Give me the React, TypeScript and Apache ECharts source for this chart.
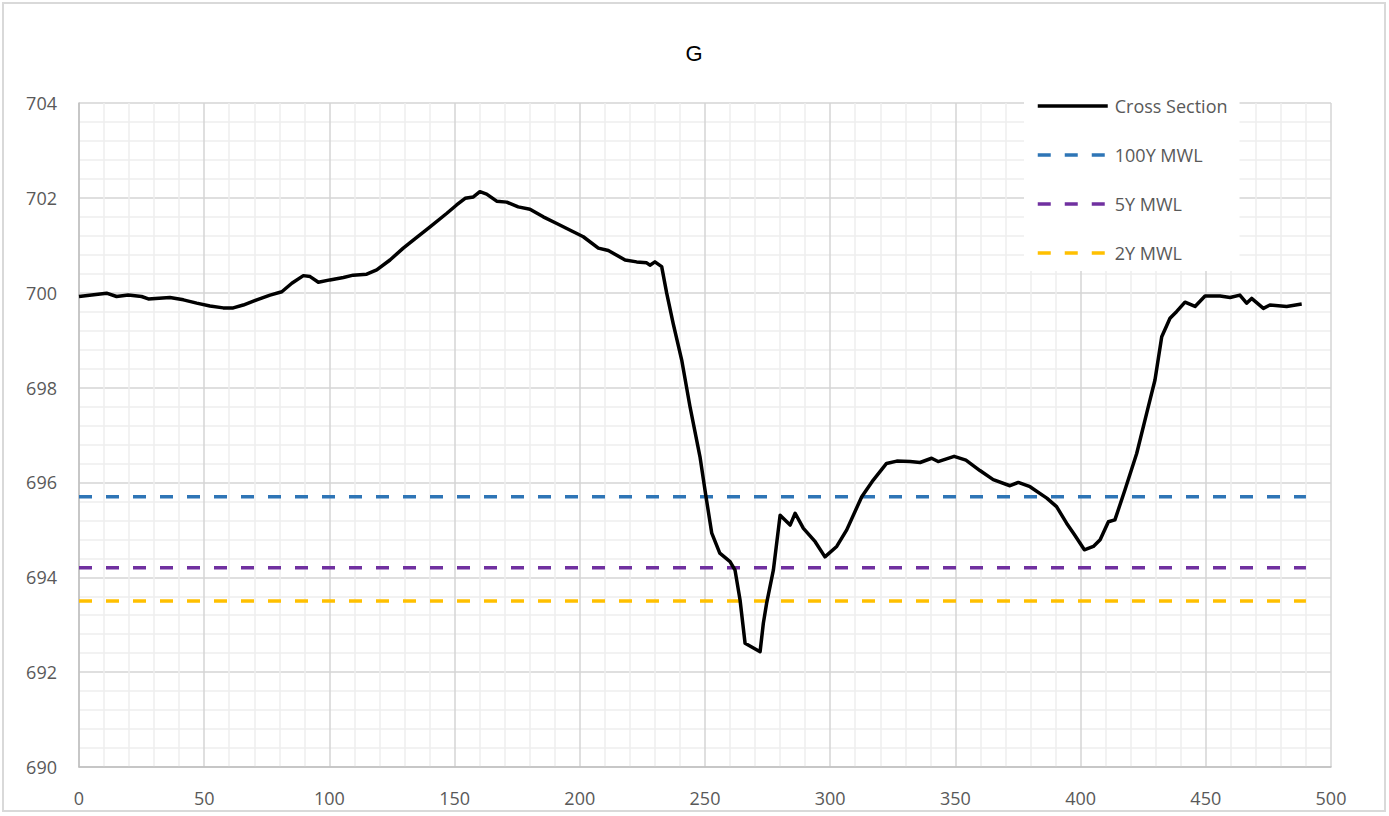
import React, { useEffect, useRef } from "react";
import * as echarts from "echarts";

const crossX = [0, 11, 15, 19.7, 25, 27.7, 36.3, 41.7, 47, 52.3, 57.6, 61.6, 65.6, 71, 76.3, 81, 85, 89.6, 92.3, 95.6, 100.2, 105.6, 109.5, 114.9, 118.9, 124.2, 129.5, 133.5, 140.2, 146.8, 150.8, 154.2, 157.5, 160.1, 162.8, 166.8, 170.8, 175.4, 180.1, 185.4, 190.8, 196.8, 201.4, 207.4, 211.4, 218.1, 222.7, 226.7, 228, 230, 232.7, 234.7, 237.3, 240.7, 244, 248, 250.4, 252.7, 255.9, 260, 262, 264, 266, 272, 273.3, 274.6, 277.3, 280, 284, 286, 289.3, 294, 297.9, 302.6, 306.6, 312.6, 317.2, 322.5, 326.6, 331.9, 335.9, 340.5, 343.1, 349.5, 354.2, 359.8, 365.1, 371.8, 375.1, 379.8, 386.5, 390.4, 394.4, 397.5, 401.5, 405.1, 407.8, 411.1, 413.7, 417.7, 422.4, 426.4, 429.7, 432.4, 435.7, 438.3, 441.7, 445.7, 449.7, 455.7, 459.7, 463.6, 466.3, 468.3, 473, 475.6, 482.3, 488.3];
const crossY = [699.92, 699.99, 699.92, 699.95, 699.92, 699.87, 699.9, 699.85, 699.78, 699.72, 699.68, 699.68, 699.74, 699.85, 699.95, 700.02, 700.2, 700.36, 700.34, 700.22, 700.27, 700.32, 700.37, 700.39, 700.48, 700.69, 700.94, 701.11, 701.39, 701.67, 701.85, 701.99, 702.02, 702.13, 702.08, 701.93, 701.91, 701.81, 701.76, 701.6, 701.46, 701.3, 701.18, 700.94, 700.89, 700.69, 700.65, 700.63, 700.58, 700.65, 700.55, 699.99, 699.35, 698.58, 697.6, 696.54, 695.7, 694.93, 694.51, 694.33, 694.15, 693.52, 692.61, 692.43, 693.03, 693.45, 694.15, 695.31, 695.1, 695.35, 695.03, 694.75, 694.43, 694.65, 695.0, 695.7, 696.05, 696.4, 696.45, 696.44, 696.42, 696.51, 696.44, 696.55, 696.47, 696.25, 696.06, 695.93, 696.0, 695.91, 695.67, 695.49, 695.14, 694.9, 694.58, 694.65, 694.79, 695.17, 695.21, 695.84, 696.61, 697.46, 698.16, 699.07, 699.46, 699.6, 699.8, 699.71, 699.93, 699.93, 699.9, 699.95, 699.78, 699.88, 699.67, 699.74, 699.71, 699.76];

const mwlNames = ["100Y MWL", "5Y MWL", "2Y MWL"];
const mwlLevels = [695.7, 694.2, 693.5];
const mwlColors = ["#2E75B6", "#7030A0", "#FFC000"];
const mwlXRange = [0, 490];

const xTicks = { min: 0, max: 500, interval: 50 };
const yTicks = { min: 690, max: 704, interval: 2 };

export default function App() {
  const ref = useRef<HTMLDivElement>(null);
  useEffect(() => {
    document.body.style.margin = "0";
    const chart = echarts.init(ref.current!, null, { renderer: "svg" });
    const font = "'Open Sans', 'Noto Sans', sans-serif";
    const crossData = crossX.map((x, i) => [x, crossY[i]]);
    const mwlSeries = mwlNames.map((name, i) => ({
      name,
      type: "line",
      data: mwlXRange.map((x) => [x, mwlLevels[i]]),
      symbol: "none",
      lineStyle: { color: mwlColors[i], width: 3.5, type: [13, 14] },
      itemStyle: { color: mwlColors[i] },
      z: 3,
    }));
    chart.setOption({
      animation: false,
      backgroundColor: "#ffffff",
      title: {
        text: "G",
        left: 689,
        textAlign: "center",
        top: 37,
        textStyle: { fontFamily: "'Liberation Sans', Arial, sans-serif", fontSize: 22, fontWeight: "normal", color: "#000" },
      },
      graphic: [
        {
          type: "rect",
          shape: { x: 3, y: 3, width: 1382, height: 808 },
          style: { fill: "none", stroke: "#d9d9d9", lineWidth: 2 },
          z: -1,
          silent: true,
        },
      ],
      grid: { left: 79, right: 58, top: 103, bottom: 49, containLabel: false },
      legend: {
        orient: "vertical",
        left: 1024,
        top: 88,
        padding: [9, 12, 9, 12],
        backgroundColor: "#ffffff",
        itemWidth: 70,
        itemHeight: 14,
        itemGap: 31,
        itemStyle: { opacity: 0 },
        lineStyle: { width: 3.5 },
        textStyle: { fontFamily: font, fontSize: 18, color: "#595959", padding: [0, 0, 0, 2] },
        data: ["Cross Section", ...mwlNames],
        z: 10,
      },
      xAxis: {
        type: "value",
        min: xTicks.min,
        max: xTicks.max,
        interval: xTicks.interval,
        axisLine: { show: true, lineStyle: { color: "#bfbfbf", width: 1.5 } },
        axisTick: { show: false },
        axisLabel: { color: "#595959", fontFamily: font, fontSize: 18, margin: 22 },
        splitLine: { show: true, lineStyle: { color: "#d4d4d4", width: 1.5 } },
        minorTick: { show: false, splitNumber: 5 },
        minorSplitLine: { show: true, lineStyle: { color: "#eeeeee", width: 1.5 } },
      },
      yAxis: {
        type: "value",
        min: yTicks.min,
        max: yTicks.max,
        interval: yTicks.interval,
        axisLine: { show: true, lineStyle: { color: "#bfbfbf", width: 1.5 } },
        axisTick: { show: false },
        axisLabel: { color: "#595959", fontFamily: font, fontSize: 18, margin: 22 },
        splitLine: { show: true, lineStyle: { color: "#d4d4d4", width: 1.5 } },
        minorTick: { show: false, splitNumber: 5 },
        minorSplitLine: { show: true, lineStyle: { color: "#eeeeee", width: 1.5 } },
      },
      series: [
        {
          name: "Cross Section",
          type: "line",
          data: crossData,
          symbol: "none",
          smooth: false,
          lineStyle: { color: "#000000", width: 3.5, join: "round" },
          itemStyle: { color: "#000000" },
          z: 4,
        },
        ...mwlSeries,
      ],
    });
    return () => chart.dispose();
  }, []);
  return <div ref={ref} style={{ width: 1389, height: 816 }} />;
}
